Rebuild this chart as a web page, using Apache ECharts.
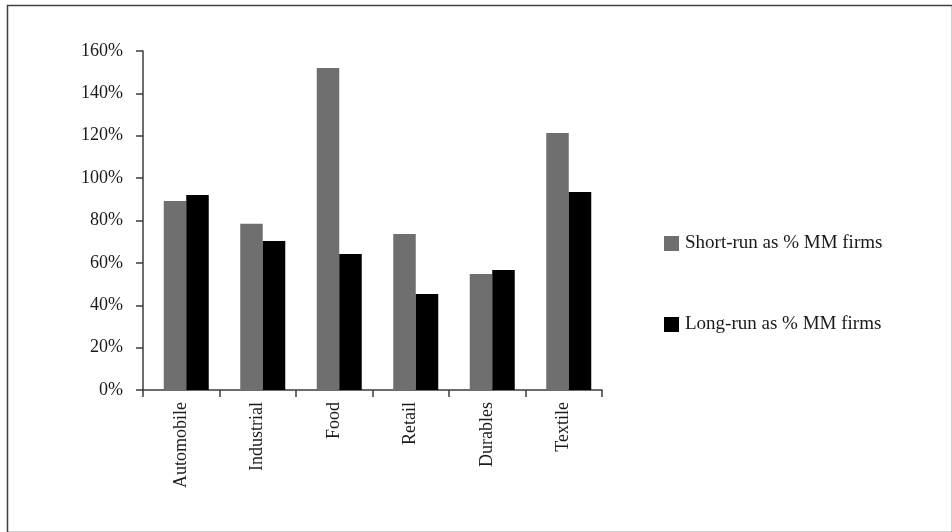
<!DOCTYPE html>
<html>
<head>
<meta charset="utf-8">
<script src="https://cdn.jsdelivr.net/npm/echarts@6/dist/echarts.min.js"></script>
<style>
html,body{margin:0;padding:0;background:#fff;}
#chart{width:952px;height:532px;}
</style>
</head>
<body>
<div id="chart"></div>
<script>
const categories = ['Automobile', 'Industrial', 'Food', 'Retail', 'Durables', 'Textile'];
const shortRunValues = [89.2, 78.5, 152, 73.6, 54.7, 121.3];
const longRunValues = [92.0, 70.3, 64.2, 45.3, 56.6, 93.4];
const seriesNames = ['Short-run as % MM firms', 'Long-run as % MM firms'];
const yTicks = [0, 20, 40, 60, 80, 100, 120, 140, 160];

const FONT = '"Liberation Serif", "DejaVu Serif", serif';
const axisColor = '#3c3c3c';

const chart = echarts.init(document.getElementById('chart'), null, {renderer: 'canvas'});
chart.setOption({
  animation: false,
  backgroundColor: '#fff',
  graphic: [{
    type: 'rect',
    left: 5, top: 3,
    shape: {width: 945, height: 527},
    style: {fill: 'none', stroke: '#404040', lineWidth: 1.5},
    silent: true
  }],
  grid: {left: 143, right: 350, top: 51, bottom: 142, containLabel: false},
  legend: {
    orient: 'vertical',
    left: 659,
    top: 229,
    itemWidth: 15,
    itemHeight: 15,
    itemGap: 62,
    icon: 'rect',
    data: seriesNames,
    textStyle: {fontFamily: FONT, fontSize: 19, color: '#1a1a1a', padding: [0, 0, 0, 1]},
    selectedMode: false
  },
  xAxis: {
    type: 'category',
    data: categories,
    axisLine: {show: true, lineStyle: {color: axisColor, width: 1.5}},
    axisTick: {show: true, length: 7, lineStyle: {color: axisColor, width: 1.5}},
    axisLabel: {
      rotate: 90,
      interval: 0,
      margin: 12,
      fontFamily: FONT,
      fontSize: 18,
      color: '#1a1a1a'
    },
    splitLine: {show: false}
  },
  yAxis: {
    type: 'value',
    min: yTicks[0],
    max: yTicks[yTicks.length - 1],
    interval: 20,
    axisLine: {show: true, lineStyle: {color: axisColor, width: 1.5}},
    axisTick: {show: true, length: 7, lineStyle: {color: axisColor, width: 1.5}},
    axisLabel: {
      margin: 20,
      fontFamily: FONT,
      fontSize: 18,
      color: '#1a1a1a',
      formatter: v => v + '%'
    },
    splitLine: {show: false}
  },
  series: [
    {
      name: 'spacer',
      type: 'bar',
      data: [],
      barWidth: 10,
      barGap: '0%',
      silent: true
    },
    {
      name: seriesNames[0],
      type: 'bar',
      data: shortRunValues,
      barWidth: 22.5,
      barGap: '0%',
      itemStyle: {color: '#6f6f6f'}
    },
    {
      name: seriesNames[1],
      type: 'bar',
      data: longRunValues,
      barWidth: 22.5,
      barGap: '0%',
      itemStyle: {color: '#000000'}
    }
  ]
});
</script>
</body>
</html>
